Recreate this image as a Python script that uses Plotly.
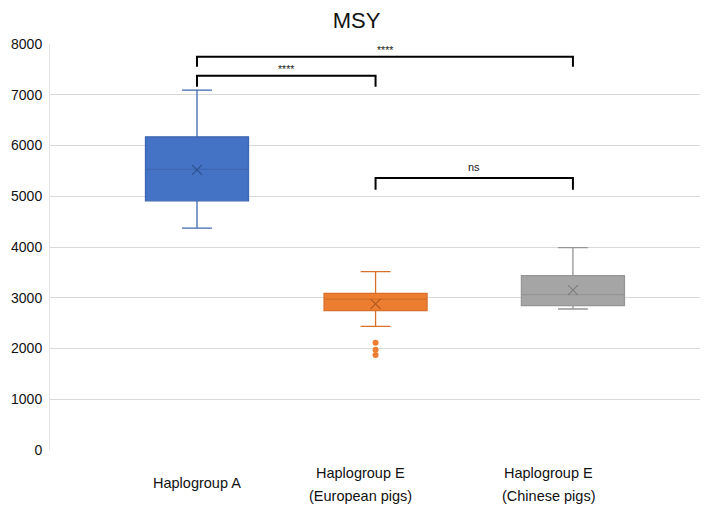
import plotly.graph_objects as go

# ---- data ----
groups = ["Haplogroup A", "Haplogroup E (European pigs)", "Haplogroup E (Chinese pigs)"]
label_lines = [["Haplogroup A"], ["Haplogroup E", "(European pigs)"], ["Haplogroup E", "(Chinese pigs)"]]
q1 = [4910, 2745, 2843]
median = [5530, 2970, 3060]
q3 = [6170, 3088, 3435]
lower = [4370, 2435, 2778]
upper = [7090, 3515, 3987]
means = [5520, 2880, 3150]
outliers_eu = [2114, 1976, 1872]
sig_labels = ["****", "****", "ns"]

# ---- layout helpers (positions/styles) ----
xpos = [0, 0.95, 2]
label_x = [0, 0.87, 1.87]
fills = ["#4472C4", "#ED7D31", "#A5A5A5"]
edges = ["#3E67B1", "#D6702B", "#959595"]
mean_cols = ["#2F528F", "#AE5A21", "#7F7F7F"]

plot_top, plot_bot = 44, 450


def px_to_paper(py):
    return (plot_bot - py) / (plot_bot - plot_top)


fig = go.Figure()
for i in range(3):
    fig.add_trace(go.Box(
        x=[xpos[i]], q1=[q1[i]], median=[median[i]], q3=[q3[i]],
        lowerfence=[lower[i]], upperfence=[upper[i]],
        fillcolor=fills[i], line=dict(color=edges[i], width=1.3),
        width=0.548, whiskerwidth=0.29, boxpoints=False, showlegend=False,
        hoverinfo="skip"))
    fig.add_trace(go.Scatter(
        x=[xpos[i]], y=[means[i]], mode="markers",
        marker=dict(symbol="x-thin", size=10, line=dict(color=mean_cols[i], width=1.2)),
        showlegend=False, hoverinfo="skip"))

fig.add_trace(go.Scatter(
    x=[xpos[1]] * len(outliers_eu), y=outliers_eu, mode="markers",
    marker=dict(size=6, color="#ED7D31"), showlegend=False, hoverinfo="skip"))

# significance brackets: (from, to, y_top, y_bottom_tick, label_y)
brackets = [(0, 2, 7750, 7550, 7880), (0, 1, 7375, 7160, 7510), (1, 2, 5360, 5130, 5570)]
for (a, b, yt, yb, ly), lab in zip(brackets, sig_labels):
    xa, xb = xpos[a], xpos[b]
    fig.add_shape(type="path",
                  path=f"M {xa},{yb} L {xa},{yt} L {xb},{yt} L {xb},{yb}",
                  line=dict(color="black", width=2), xref="x", yref="y")
    fig.add_annotation(x=(xa + xb) / 2, y=ly, text=lab, showarrow=False,
                       font=dict(size=10.5 if lab != "ns" else 11, color="#222"),
                       xref="x", yref="y")

# category labels
for lx, lines in zip(label_x, label_lines):
    ys = [483] if len(lines) == 1 else [473, 496]
    for t, py in zip(lines, ys):
        fig.add_annotation(x=lx, y=px_to_paper(py), text=t, showarrow=False,
                           xref="x", yref="paper", yanchor="middle",
                           font=dict(size=14.5, color="#111"))

fig.update_layout(
    width=713, height=511,
    margin=dict(l=50, r=13, t=44, b=61),
    plot_bgcolor="white", paper_bgcolor="white",
    font=dict(family="Liberation Sans, Arial, sans-serif", color="#111"),
    title=dict(text="MSY", x=0.5, xanchor="center", y=1 - 20 / 511, yanchor="middle",
               yref="container", font=dict(size=22, color="#111")),
    xaxis=dict(range=[-0.782, 2.676], showticklabels=False, showgrid=False,
               zeroline=False, showline=False),
    yaxis=dict(range=[0, 8000], dtick=1000, showgrid=True, gridcolor="#D9D9D9",
               gridwidth=1, zeroline=False, showline=True, linecolor="#E3E3E3",
               ticks="", tickfont=dict(size=14, color="#111"), ticklabelstandoff=4),
)

fig.write_html("out.html")
